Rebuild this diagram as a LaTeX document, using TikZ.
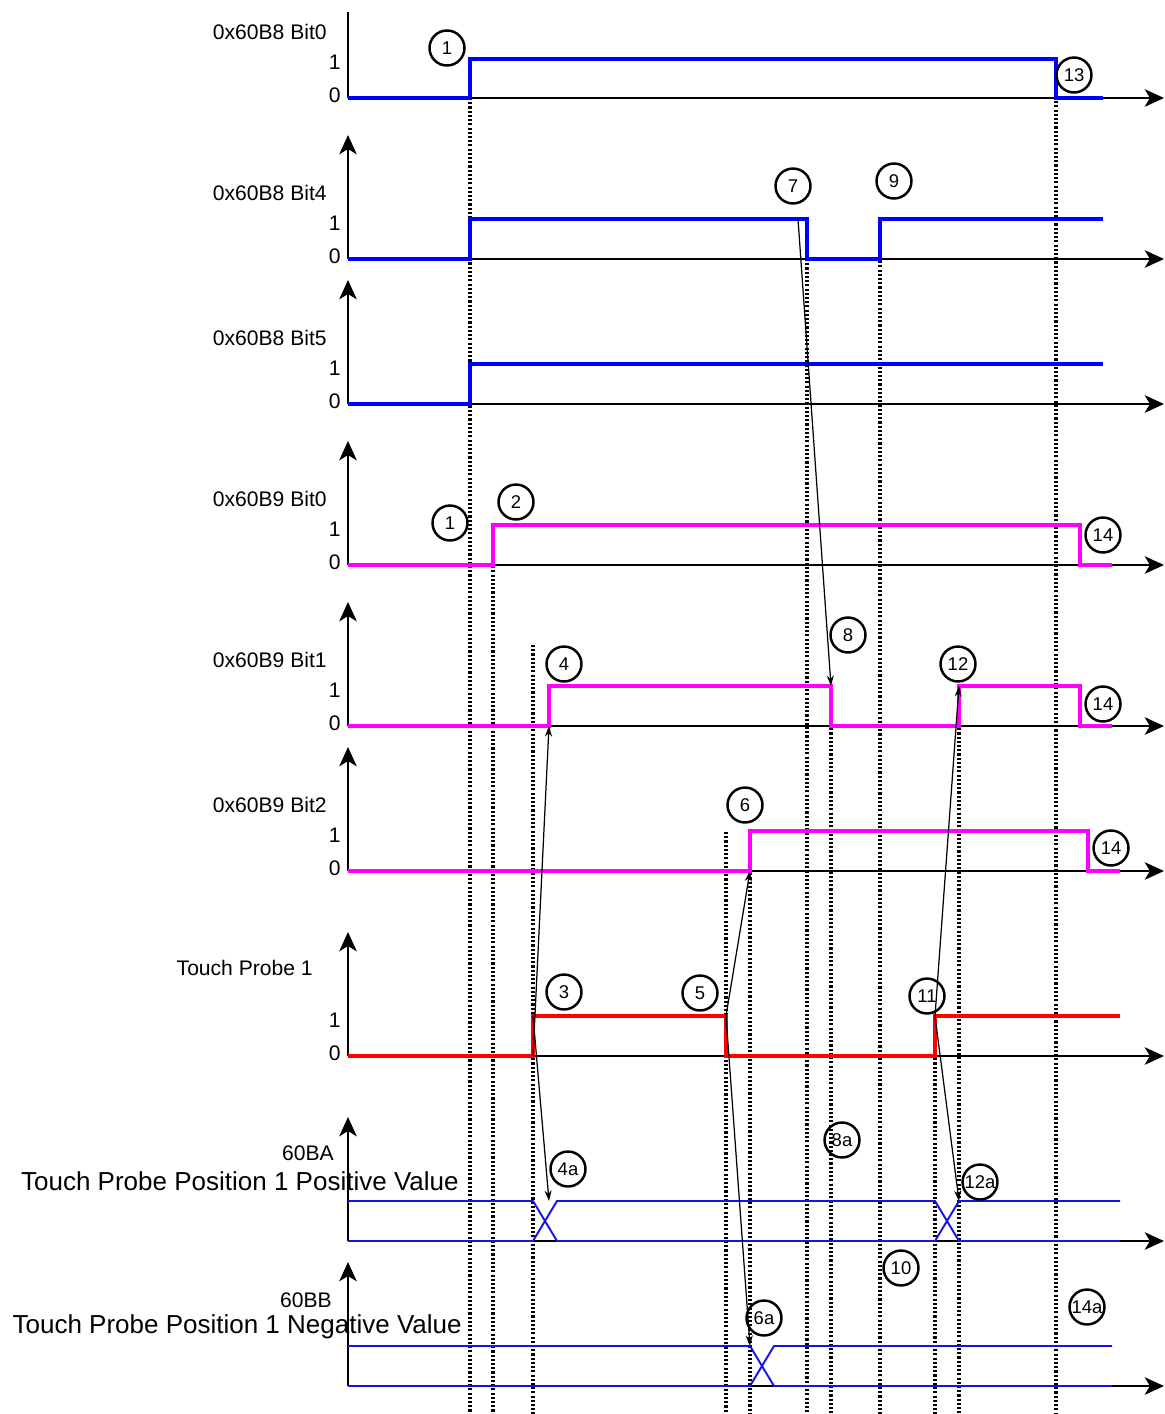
\documentclass[tikz,border=0pt]{standalone}
\usepackage{fontspec}
\setmainfont{Liberation Sans}
\usetikzlibrary{arrows.meta, positioning, calc}
\definecolor{mag}{RGB}{255,0,255}
\definecolor{sblue}{RGB}{0,0,255}
\definecolor{busblue}{RGB}{20,20,230}

\begin{document}
\begin{tikzpicture}[x=0.02cm, y=-0.02cm,
  lbl/.style={anchor=east, font=\fontsize{12}{14}\selectfont, inner sep=0pt},
  big/.style={anchor=east, font=\fontsize{14.8}{17}\selectfont, inner sep=0pt},
  ev/.style={draw, circle, line width=1.4pt, minimum size=0.7cm, inner sep=0pt, font=\fontsize{10.5}{12}\selectfont},
  ax/.style={line width=0.9pt, -{Stealth[length=11pt,width=10pt,inset=3pt]}},
  guide/.style={line width=2pt, dash pattern=on 1.2pt off 1.2pt},
  sigb/.style={draw=sblue, line width=2pt},
  sigm/.style={draw=mag, line width=2pt},
  sigr/.style={draw=red, line width=2pt},
  bus/.style={draw=busblue, line width=1.1pt},
  cause/.style={line width=0.7pt, -{Stealth[length=6pt,width=4pt]}}]
  \useasboundingbox (0,0) rectangle (1164,1414);
  % time markers
  \foreach \x/\t in {470/98, 493/545, 533/645, 726/832, 750/831, 807/259, 831/686, 880/219, 935/1016, 959/686, 1056/59}
    \draw[guide] (\x,\t) -- (\x,1414);
  % axes
  \draw[line width=0.9pt] (348,12) -- (348,98);
  \foreach \b in {259,404,565,726,871,1056,1241,1386}
    \draw[ax] (348,\b) -- (348,{\b-124});
  \foreach \b in {98,259,404,565,726,871,1056,1241,1386}
    \draw[ax] (348,\b) -- (1164,\b);
  \foreach \b in {98,259,404,565,726,1056,871} {
    \node[lbl] (one\b) at (341,{\b-36}) {1};
    \node[lbl] (zero\b) at (341,{\b-3}) {0};
  }
  \node[lbl] (r1) at (327,32) {0x60B8 Bit0};
  \node[lbl] (r2) at (327,193) {0x60B8 Bit4};
  \node[lbl] (r3) at (327,338) {0x60B8 Bit5};
  \node[lbl] (r4) at (327,499) {0x60B9 Bit0};
  \node[lbl] (r5) at (327,660) {0x60B9 Bit1};
  \node[lbl] (r6) at (327,805) {0x60B9 Bit2};
  \node[lbl] (r7) at (313,968) {Touch Probe 1};
  \node[lbl] (r8) at (334,1153) {60BA};
  \node[big] (r8b) at (459,1181) {Touch Probe Position 1 Positive Value};
  \node[lbl] (r9) at (332,1300) {60BB};
  \node[big] (r9b) at (462,1327) {Touch Probe Position 1 Negative Value};
  % signals
  \draw[sigb] (348,98) -- (470,98) -- (470,59) -- (1056,59) -- (1056,98) -- (1103,98);
  \draw[sigb] (348,259) -- (470,259) -- (470,219) -- (807,219) -- (807,259) -- (880,259) -- (880,219) -- (1103,219);
  \draw[sigb] (348,404) -- (470,404) -- (470,364) -- (1103,364);
  \draw[sigm] (348,565) -- (493,565) -- (493,525) -- (1080,525) -- (1080,565) -- (1112,565);
  \draw[sigm] (348,726) -- (549,726) -- (549,686) -- (831,686) -- (831,726) -- (959,726) -- (959,686) -- (1080,686) -- (1080,726) -- (1112,726);
  \draw[sigm] (348,871) -- (750,871) -- (750,831) -- (1088,831) -- (1088,871) -- (1120,871);
  \draw[sigr] (348,1056) -- (533,1056) -- (533,1016) -- (726,1016) -- (726,1056) -- (935,1056) -- (935,1016) -- (1120,1016);
  \draw[bus] (348,1201) -- (533,1201) -- (557,1241) -- (935,1241) -- (959,1201) -- (1120,1201);
  \draw[bus] (348,1241) -- (533,1241) -- (557,1201) -- (935,1201) -- (959,1241) -- (1120,1241);
  \draw[bus] (348,1346) -- (750,1346) -- (774,1386) -- (1112,1386);
  \draw[bus] (348,1386) -- (750,1386) -- (774,1346) -- (1112,1346);
  % events
  \node[ev] (c1) at (447,48) {1};
  \node[ev] (c13) at (1074,75) {13};
  \node[ev] (c7) at (793,186) {7};
  \node[ev] (c9) at (894,181) {9};
  \node[ev] (c1b) at (450,523) {1};
  \node[ev] (c2) at (516,502) {2};
  \node[ev] (c14) at (1103,535) {14};
  \node[ev] (c8) at (848,635) {8};
  \node[ev] (c4) at (564,664) {4};
  \node[ev] (c12) at (958,664) {12};
  \node[ev] (c14b) at (1103,704) {14};
  \node[ev] (c6) at (745,805) {6};
  \node[ev] (c14c) at (1111,848) {14};
  \node[ev] (c3) at (564,992) {3};
  \node[ev] (c5) at (700,993) {5};
  \node[ev] (c11) at (927,996) {11};
  \node[ev] (c8a) at (842,1140) {8a};
  \node[ev] (c4a) at (568,1169) {4a};
  \node[ev] (c12a) at (980,1182) {12a};
  \node[ev] (c10) at (901,1268) {10};
  \node[ev] (c6a) at (764,1318) {6a};
  \node[ev] (c14a) at (1087,1307) {14a};
  % cause and effect
  \coordinate (t7) at (798,219);
  \coordinate (t8) at (831,686);
  \coordinate (t3lo) at (533,1056);
  \coordinate (t3hi) at (533,1016);
  \coordinate (t4) at (549,726);
  \coordinate (t4a) at (549,1201);
  \coordinate (t5) at (726,1016);
  \coordinate (t6) at (750,871);
  \coordinate (t6a) at (750,1346);
  \coordinate (t11) at (935,1016);
  \coordinate (t12) at (959,686);
  \coordinate (t12a) at (959,1201);
  \draw[cause] (t7) -- (t8);
  \draw[cause] (t3lo) -- (t4);
  \draw[cause] (t3hi) -- (t4a);
  \draw[cause] (t5) -- (t6);
  \draw[cause] (t5) -- (t6a);
  \draw[cause] (t11) -- (t12);
  \draw[cause] (t11) -- (t12a);
\end{tikzpicture}
\end{document}
